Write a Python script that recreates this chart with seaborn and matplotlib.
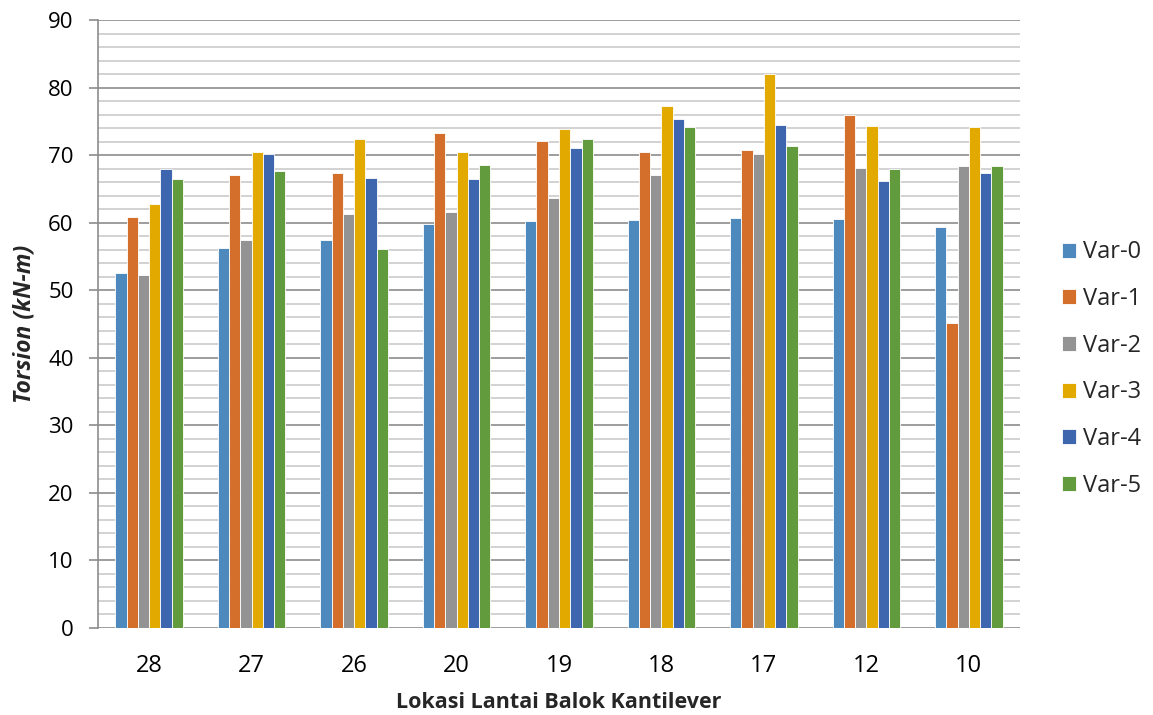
import matplotlib
matplotlib.use("Agg")
import matplotlib.pyplot as plt
from matplotlib.ticker import MultipleLocator
import seaborn as sns
import pandas as pd

# Floor locations of the cantilever beams
locations = ["28", "27", "26", "20", "19", "18", "17", "12", "10"]
variants = ["Var-0", "Var-1", "Var-2", "Var-3", "Var-4", "Var-5"]

# Torsion (kN-m) per variant
var0 = [52.5, 56.3, 57.4, 59.8, 60.2, 60.4, 60.7, 60.6, 59.3]
var1 = [60.8, 67.0, 67.3, 73.3, 72.1, 70.4, 70.8, 76.0, 45.1]
var2 = [52.3, 57.5, 61.3, 61.6, 63.6, 67.1, 70.1, 68.1, 68.4]
var3 = [62.7, 70.5, 72.4, 70.5, 73.8, 77.3, 82.0, 74.3, 74.2]
var4 = [68.0, 70.2, 66.6, 66.5, 71.1, 75.3, 74.5, 66.1, 67.4]
var5 = [66.4, 67.6, 56.1, 68.5, 72.4, 74.1, 71.4, 67.9, 68.4]

series = [var0, var1, var2, var3, var4, var5]
colors = ["#4E89BE", "#D46E2B", "#939393", "#E2A900", "#3D66AF", "#629A3E"]

rows = []
for name, vals in zip(variants, series):
    for loc, v in zip(locations, vals):
        rows.append({"Lokasi": loc, "Varian": name, "Torsion": v})
df = pd.DataFrame(rows)

sns.set_theme(style="white")
plt.rcParams["font.family"] = ["Open Sans", "DejaVu Sans"]

W, H = 1153, 715
fig = plt.figure(figsize=(W / 100, H / 100), dpi=100)
ax = fig.add_axes([98 / W, 87 / H, 922 / W, 608 / H])

sns.barplot(data=df, x="Lokasi", y="Torsion", hue="Varian", order=locations,
            hue_order=variants, palette=colors, width=0.66, ax=ax,
            edgecolor="white", linewidth=0.6, saturation=1, errorbar=None)

ax.set_ylim(0, 90)
ax.set_xlim(-0.5, len(locations) - 0.5)
ax.yaxis.set_major_locator(MultipleLocator(10))
ax.yaxis.set_minor_locator(MultipleLocator(2))
ax.grid(which="minor", axis="y", color="#cbcbcb", linewidth=1.2)
ax.grid(which="major", axis="y", color="#8c8c8c", linewidth=1.2)
ax.set_axisbelow(True)

for side in ["top", "right", "bottom"]:
    ax.spines[side].set_visible(False)
ax.spines["left"].set_color("#8c8c8c")
ax.spines["left"].set_linewidth(1.2)

ax.tick_params(axis="y", which="major", direction="out", length=6.5, width=1.2,
               color="#8c8c8c", left=True, labelsize=16, pad=11, labelcolor="black")
ax.tick_params(axis="y", which="minor", left=False)
ax.tick_params(axis="x", bottom=False, labelsize=17, pad=12.5, labelcolor="black")

ax.set_ylabel("Torsion (kN-m)", fontsize=16.5, fontweight="bold", style="italic")
ax.yaxis.set_label_coords(-(98 - 25) / 922, 0.5)
ax.yaxis.label.set_verticalalignment("center")

ax.set_xlabel("Lokasi Lantai Balok Kantilever", fontsize=15.5, fontweight="bold")
ax.xaxis.set_label_coords(0.5, -(708 - 628) / 608)
ax.xaxis.label.set_verticalalignment("baseline")

handles, labels = ax.get_legend_handles_labels()
ax.legend(handles, labels, loc="center left",
          bbox_to_anchor=(1062 / W, (H - 369) / H),
          bbox_transform=fig.transFigure, frameon=False, fontsize=17,
          borderpad=0, borderaxespad=0,
          handlelength=0.6, handleheight=0.6, handletextpad=0.3,
          labelspacing=0.96)

fig.savefig("out.png", dpi=100, facecolor="white")
